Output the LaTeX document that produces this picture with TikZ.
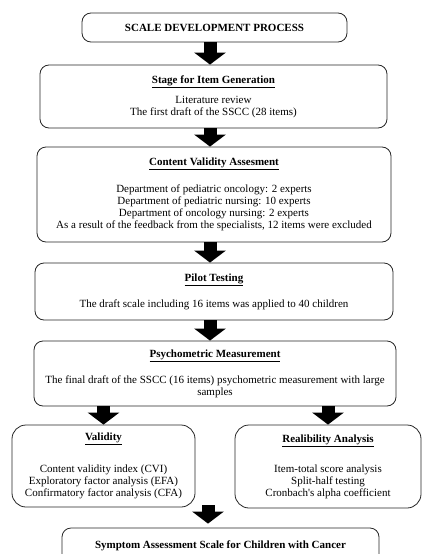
\documentclass[tikz,border=0pt]{standalone}
\usepackage{fontspec}
\setmainfont{Liberation Serif}
\usetikzlibrary{arrows.meta}

\tikzset{
    stagebox/.style={draw=black!85, line width=0.8pt, rounded corners=9pt, align=center,
        inner sep=2pt, font=\fontsize{11}{12}\selectfont},
    sidebox/.style={stagebox, rounded corners=14pt},
    fatarrow/.style={black, line width=13pt, -{Triangle[width=31pt,length=12pt]}}
}
\newcommand{\stagehead}[1]{\underline{\textbf{#1}}}

\begin{document}
\begin{tikzpicture}[x=1pt, y=-1pt]
    \useasboundingbox (0,0) rectangle (422,554);
    \clip (0,0) rectangle (422,554);
    \coordinate (spine) at (210,0);
    \coordinate (join) at (208,505);

    \node[stagebox, minimum width=265pt, minimum height=29pt] (title) at (214.5,27.5)
        {\textbf{SCALE DEVELOPMENT PROCESS}};
    \node[stagebox, minimum width=347pt, minimum height=63pt] (stage) at (213.5,96.5)
        {\stagehead{Stage for Item Generation}\\[8pt]
         Literature review\\
         The first draft of the SSCC (28 items)};
    \node[stagebox, minimum width=354pt, minimum height=95pt] (content) at (214,194.5)
        {\stagehead{Content Validity Assesment}\\[14pt]
         Department of pediatric oncology: 2 experts\\
         Department of pediatric nursing: 10 experts\\
         Department of oncology nursing: 2 experts\\
         As a result of the feedback from the specialists, 12 items were excluded};
    \node[stagebox, minimum width=358pt, minimum height=57pt] (pilot) at (214,291.5)
        {\stagehead{Pilot Testing}\\[13pt]
         The draft scale including 16 items was applied to 40 children};
    \node[stagebox, minimum width=362pt, minimum height=65pt] (psy) at (215,373.5)
        {\stagehead{Psychometric Measurement}\\[13pt]
         The final draft of the SSCC (16 items) psychometric measurement with large\\
         samples};
    \node[sidebox, minimum width=183pt, minimum height=82pt] (valid) at (103.5,466)
        {\stagehead{Validity}\\[19pt]
         Content validity index (CVI)\\
         Exploratory factor analysis (EFA)\\
         Confirmatory factor analysis (CFA)};
    \node[sidebox, minimum width=186pt, minimum height=83pt] (reli) at (328,466.5)
        {\stagehead{Realibility Analysis}\\[17pt]
         Item-total score analysis\\
         Split-half testing\\
         Cronbach\textquotesingle s alpha coefficient};
    \node[stagebox, minimum width=317pt, minimum height=36pt] (final) at (220.5,546)
        {\textbf{Symptom Assessment Scale for Children with Cancer}};

    \draw[fatarrow] (title.south -| spine) -- (stage.north -| spine);
    \draw[fatarrow] (stage.south -| spine) -- (content.north -| spine);
    \draw[fatarrow] (content.south -| spine) -- (pilot.north -| spine);
    \draw[fatarrow] (pilot.south -| spine) -- (psy.north -| spine);
    \draw[fatarrow] (psy.south -| valid.north) -- (valid.north);
    \draw[fatarrow] (psy.south -| reli.north) -- (reli.north);
    \draw[fatarrow, shorten >=4pt] (join) -- (final.north -| join);
\end{tikzpicture}
\end{document}
